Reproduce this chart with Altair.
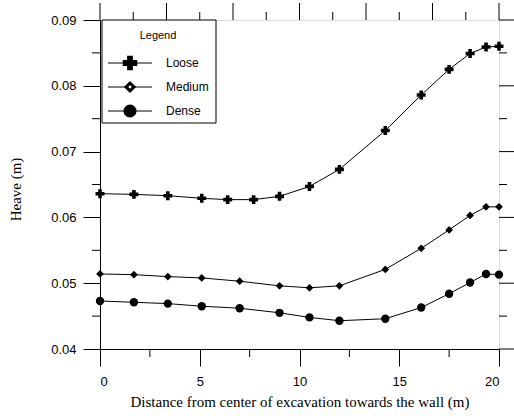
import altair as alt
import pandas as pd

# Heave profiles for three soil densities
series_names = ["Loose", "Medium", "Dense"]

loose_x = [0, 1.7, 3.4, 5.1, 6.4, 7.7, 9.0, 10.5, 12.0, 14.3, 16.1, 17.5, 18.55, 19.35, 20]
loose_y = [0.0636, 0.0635, 0.0633, 0.0629, 0.0627, 0.0627, 0.0632, 0.0647, 0.0673,
           0.0732, 0.0786, 0.0825, 0.0849, 0.0859, 0.0860]

md_x = [0, 1.7, 3.4, 5.1, 7.0, 9.0, 10.5, 12.0, 14.3, 16.1, 17.5, 18.55, 19.35, 20]
medium_y = [0.0514, 0.0513, 0.0510, 0.0508, 0.0503, 0.0496, 0.0493, 0.0496, 0.0521,
            0.0553, 0.0581, 0.0603, 0.0616, 0.0616]
dense_y = [0.0473, 0.0471, 0.0469, 0.0465, 0.0462, 0.0455, 0.0448, 0.0443, 0.0446,
           0.0463, 0.0484, 0.0501, 0.0514, 0.0513]

x_major = [0, 5, 10, 15, 20]
x_minor = [2.5, 7.5, 12.5, 17.5]
top_major = [0, 10 / 3, 20 / 3, 10, 40 / 3, 50 / 3, 20]
top_minor = [5 / 3, 5, 25 / 3, 35 / 3, 15, 55 / 3]
y_major = [0.04, 0.05, 0.06, 0.07, 0.08, 0.09]
y_minor = [0.045, 0.055, 0.065, 0.075, 0.085]

W, H = 399, 329
SANS = "Liberation Sans"
SERIF = "Liberation Serif"

rows = []
for name, xs_, ys_ in [("Loose", loose_x, loose_y), ("Medium", md_x, medium_y), ("Dense", md_x, dense_y)]:
    for a, b in zip(xs_, ys_):
        rows.append({"series": name, "dist": a, "heave": b})
df = pd.DataFrame(rows)

xs = alt.Scale(domain=[0, 20], nice=False, zero=False)
ys = alt.Scale(domain=[0.04, 0.09], nice=False, zero=False)

x_axis = alt.Axis(values=x_major, tickSize=17, tickColor="black", domainColor="black",
                  labelFont=SANS, labelFontSize=13, labelColor="black", labelPadding=9,
                  grid=False, title="Distance from center of excavation towards the wall (m)",
                  titleFont=SERIF, titleFontSize=15, titleFontWeight="normal",
                  titleColor="black", titlePadding=6)
y_axis = alt.Axis(values=y_major, format=".2f", tickSize=17, tickColor="black",
                  domainColor="black", labelFont=SANS, labelFontSize=13,
                  labelColor="black", labelPadding=7, grid=False, title="Heave (m)",
                  titleFont=SERIF, titleFontSize=15, titleFontWeight="normal",
                  titleColor="black", titleX=-85, titleY=169, titleAngle=270,
                  titleAlign="center", titleBaseline="middle")

X = alt.X("dist:Q", scale=xs, axis=x_axis)
Y = alt.Y("heave:Q", scale=ys, axis=y_axis)

lines = alt.Chart(df).mark_line(color="black", strokeWidth=1).encode(x=X, y=Y, detail="series:N")

shape_of = {"Loose": "cross", "Medium": "diamond", "Dense": "circle"}
size_of = {"Loose": 80, "Medium": 60, "Dense": 70}
points = [
    alt.Chart(df[df.series == n]).mark_point(
        shape=shape_of[n], size=size_of[n], filled=True, color="black", opacity=1
    ).encode(x=X, y=Y)
    for n in series_names
]


# Tick marks drawn around the frame
def xticks(vals, y0, y1):
    return alt.Chart(pd.DataFrame({"dist": vals})).mark_rule(color="black", strokeWidth=1).encode(
        x=X, y=alt.value(y0), y2=alt.value(y1))


def yticks(vals, x0, x1):
    return alt.Chart(pd.DataFrame({"heave": vals})).mark_rule(color="black", strokeWidth=1).encode(
        y=Y, x=alt.value(x0), x2=alt.value(x1))


ticks = [
    xticks(x_minor, H, H + 8),
    xticks(top_major, -17, 0),
    xticks(top_minor, -8, 0),
    yticks(y_minor, -8, 0),
    yticks(y_major, W, W + 15),
    yticks(y_minor, W, W + 8),
]

# Legend box
one = pd.DataFrame({"k": [0]})
legend = [
    alt.Chart(one).mark_rect(fill="white", stroke="black", strokeWidth=1).encode(
        x=alt.value(2), x2=alt.value(116), y=alt.value(0), y2=alt.value(103)),
    alt.Chart(one).mark_text(text="Legend", font=SANS, fontSize=11, fontWeight="normal",
                             color="black", align="center", baseline="middle").encode(
        x=alt.value(58), y=alt.value(16)),
]
leg_y = {"Loose": 43, "Medium": 67, "Dense": 91}
leg_size = {"Loose": 210, "Medium": 150, "Dense": 170}
for n in series_names:
    d = pd.DataFrame({"series": [n]})
    legend += [
        alt.Chart(d).mark_rule(color="black", strokeWidth=1).encode(
            x=alt.value(8), x2=alt.value(52), y=alt.value(leg_y[n])),
        alt.Chart(d).mark_point(shape=shape_of[n], size=leg_size[n], filled=True,
                                color="black", opacity=1).encode(
            x=alt.value(30), y=alt.value(leg_y[n])),
        alt.Chart(d).mark_text(font=SANS, fontSize=12, fontWeight="normal", color="black",
                               align="left", baseline="middle").encode(
            text="series:N", x=alt.value(66), y=alt.value(leg_y[n])),
    ]
    if n == "Medium":
        legend.append(
            alt.Chart(d).mark_point(shape="circle", size=8, filled=True, color="white",
                                    opacity=1).encode(x=alt.value(30), y=alt.value(leg_y[n])))

chart = alt.layer(lines, *points, *ticks, *legend).properties(
    width=W, height=H,
    padding={"left": 100, "top": 20, "right": 15, "bottom": 67},
    autosize=alt.AutoSizeParams(type="none"),
).configure_view(stroke="black", strokeWidth=1).configure(background="white")

chart.save("out.html", embed_options={"renderer": "svg", "actions": False})
